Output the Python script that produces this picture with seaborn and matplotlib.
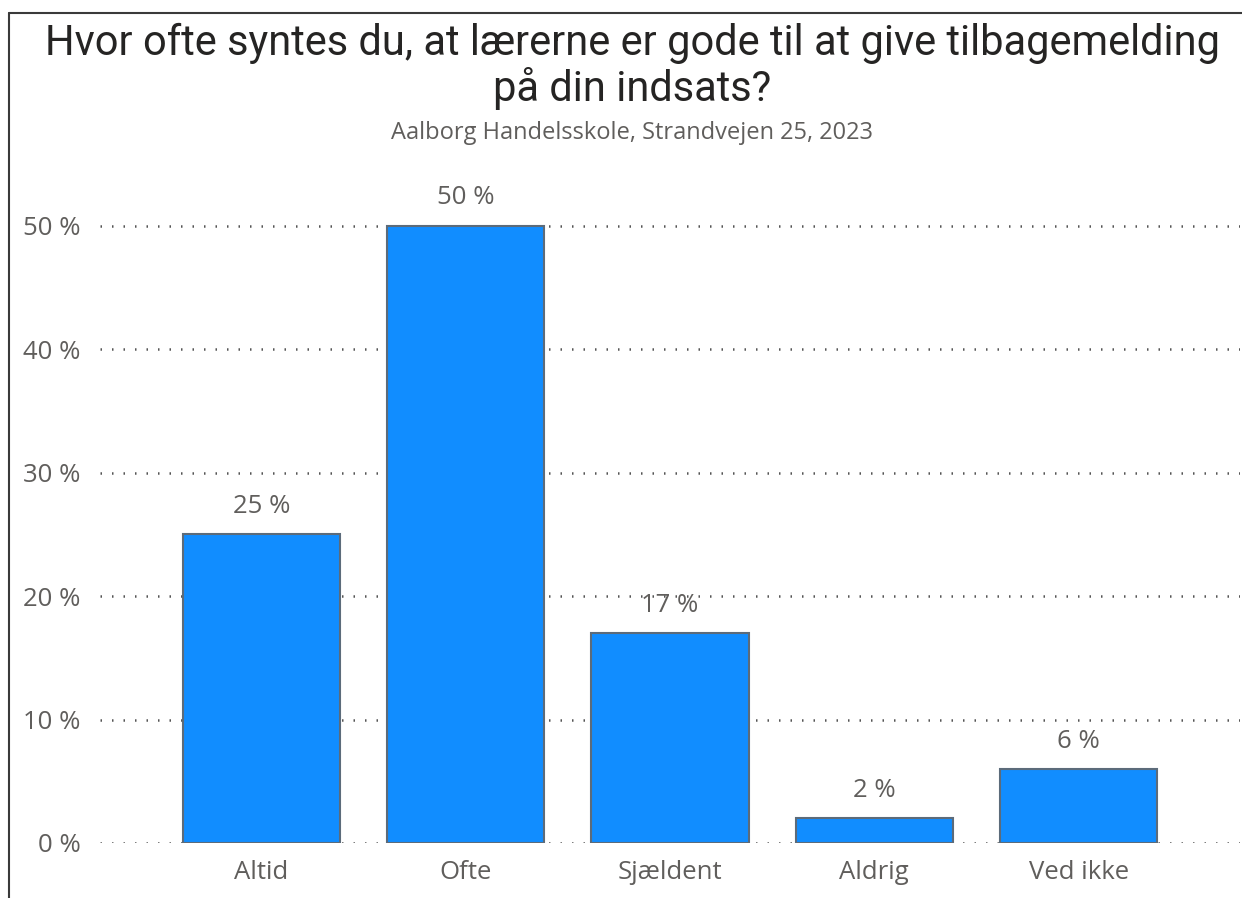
import matplotlib
matplotlib.use('Agg')
import matplotlib.pyplot as plt
import seaborn as sns
import pandas as pd
from matplotlib.lines import Line2D

# Data
categories = ['Altid', 'Ofte', 'Sjældent', 'Aldrig', 'Ved ikke']
values = [25, 50, 17, 2, 6]
y_ticks = [0, 10, 20, 30, 40, 50]
y_tick_labels = ['0 %', '10 %', '20 %', '30 %', '40 %', '50 %']

title_lines = ['Hvor ofte syntes du, at lærerne er gode til at give tilbagemelding',
               'på din indsats?']
subtitle = 'Aalborg Handelsskole, Strandvejen 25, 2023'

df = pd.DataFrame({'svar': categories, 'andel': values})

sns.set_style('white')
plt.rcParams['font.family'] = ['Open Sans', 'DejaVu Sans']

text_grey = '#605E5C'

fig = plt.figure(figsize=(12.42, 8.98), dpi=100)
ax = fig.add_axes([100 / 1242, 55 / 898, 1140 / 1242, 679 / 898])

sns.barplot(data=df, x='svar', y='andel', color='#118DFF', saturation=1,
            width=0.77, edgecolor='#5C6B7A', linewidth=1.5, ax=ax, zorder=3)

ax.set_xlim(-0.79, 4.79)
ax.set_ylim(0, 55)
ax.set_yticks(y_ticks)
ax.set_yticklabels(y_tick_labels)
ax.set_xlabel('')
ax.set_ylabel('')

# dotted gridlines
for t in y_ticks:
    ax.axhline(t, color='#555555', linewidth=1.8, linestyle=(0, (0.6, 4.0)), zorder=1)

sns.despine(ax=ax, left=True, bottom=True, top=True, right=True)
ax.tick_params(axis='both', length=0, labelsize=18.5, colors=text_grey)
ax.tick_params(axis='y', pad=14)
ax.tick_params(axis='x', pad=12)

# value labels
for i, v in enumerate(values):
    ax.annotate(f'{v} %', (i, v), xytext=(0, 20), textcoords='offset points',
                ha='center', va='center', fontsize=18.5, color=text_grey)

for line, ypix in zip(title_lines, [43, 88]):
    fig.text(0.509, 1 - ypix / 898, line, ha='center', va='center', fontsize=30,
             color='#252423', family=['Roboto', 'DejaVu Sans'])
fig.text(0.509, 1 - 133 / 898, subtitle, ha='center', va='center', fontsize=17,
         color=text_grey)

# frame of the visual (left and top edges)
fig.add_artist(Line2D([9 / 1242, 9 / 1242], [0, 1 - 13 / 898], transform=fig.transFigure,
                      color='#3A3A3A', linewidth=1.5))
fig.add_artist(Line2D([9 / 1242, 1], [1 - 13 / 898, 1 - 13 / 898], transform=fig.transFigure,
                      color='#3A3A3A', linewidth=1.5))

fig.savefig('out.png', dpi=100)
